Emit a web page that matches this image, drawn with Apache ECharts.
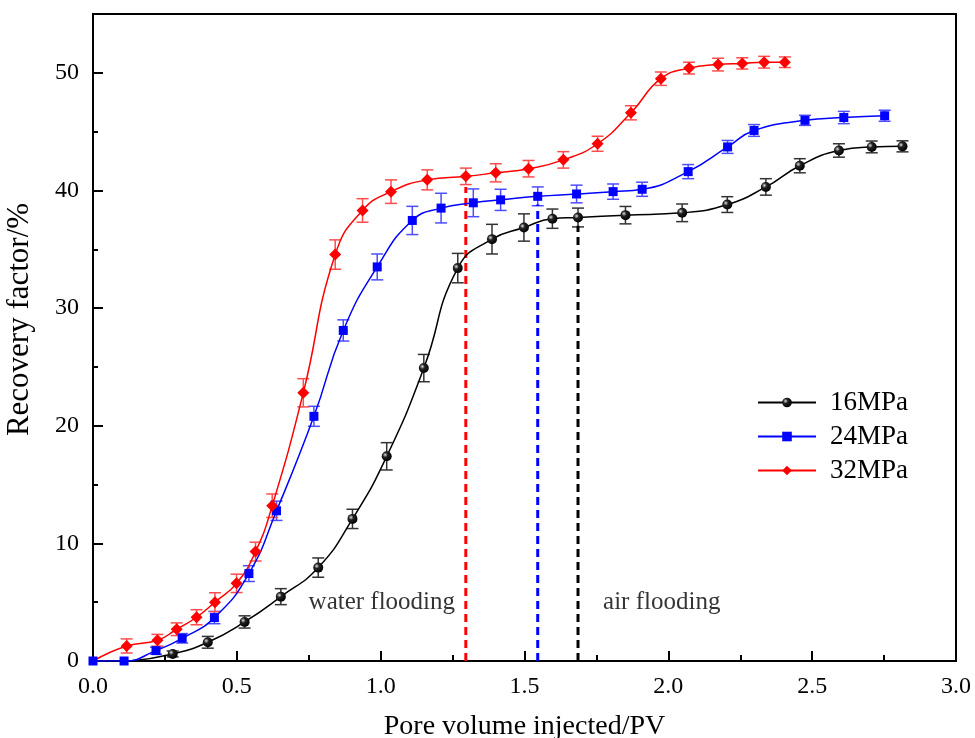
<!DOCTYPE html>
<html>
<head>
<meta charset="utf-8">
<script src="https://cdn.jsdelivr.net/npm/echarts@6/dist/echarts.min.js"></script>
<style>
  html, body { margin: 0; padding: 0; background: #fff; }
  #main { width: 975px; height: 738px; }
</style>
</head>
<body>
<div id="main"></div>
<script>
// 16 MPa
var x16 = [0.13, 0.277, 0.399, 0.527, 0.653, 0.783, 0.902, 1.021, 1.150, 1.268, 1.387, 1.498, 1.597, 1.686, 1.851, 2.048, 2.205, 2.339, 2.457, 2.593, 2.707, 2.814];
var y16 = [0, 0.6, 1.59, 3.32, 5.47, 7.94, 12.08, 17.4, 24.9, 33.4, 35.86, 36.85, 37.6, 37.7, 37.9, 38.1, 38.8, 40.3, 42.1, 43.4, 43.7, 43.75];
var e16 = [0, 0.25, 0.5, 0.52, 0.68, 0.82, 0.82, 1.16, 1.16, 1.25, 1.26, 1.16, 0.82, 0.8, 0.74, 0.75, 0.67, 0.7, 0.6, 0.57, 0.5, 0.47];
// 24 MPa
var x24 = [0, 0.108, 0.219, 0.310, 0.422, 0.542, 0.638, 0.768, 0.870, 0.988, 1.110, 1.210, 1.322, 1.417, 1.546, 1.681, 1.808, 1.909, 2.069, 2.206, 2.298, 2.475, 2.610, 2.752];
var y24 = [0, 0, 0.88, 1.93, 3.69, 7.43, 12.77, 20.8, 28.1, 33.5, 37.45, 38.5, 38.95, 39.2, 39.5, 39.7, 39.9, 40.1, 41.6, 43.7, 45.1, 45.96, 46.2, 46.35];
var e24 = [0, 0, 0.3, 0.4, 0.52, 0.67, 0.82, 0.85, 0.9, 1.1, 1.2, 1.26, 1.18, 0.9, 0.8, 0.75, 0.65, 0.6, 0.6, 0.55, 0.5, 0.43, 0.52, 0.47];
// 32 MPa
var x32 = [0, 0.117, 0.224, 0.291, 0.360, 0.424, 0.499, 0.565, 0.623, 0.731, 0.842, 0.937, 1.036, 1.162, 1.296, 1.400, 1.514, 1.635, 1.754, 1.870, 1.974, 2.072, 2.173, 2.257, 2.333, 2.405];
var y32 = [0, 1.28, 1.76, 2.7, 3.72, 5.0, 6.6, 9.3, 13.2, 22.8, 34.55, 38.3, 39.9, 40.9, 41.2, 41.5, 41.85, 42.6, 43.97, 46.6, 49.5, 50.4, 50.7, 50.8, 50.9, 50.9];
var e32 = [0, 0.6, 0.5, 0.54, 0.64, 0.8, 0.78, 0.8, 1.0, 1.2, 1.25, 1.0, 1.0, 0.85, 0.7, 0.77, 0.7, 0.7, 0.64, 0.6, 0.57, 0.5, 0.54, 0.48, 0.5, 0.45];

// switch from water to air flooding: [x, top of the dashed line]
var switch16 = [1.686, 37.0];
var switch24 = [1.546, 38.8];
var switch32 = [1.296, 40.3];

var notes = [[1.004, 4.94, 'water flooding'], [1.977, 4.98, 'air flooding']];

var FONT = '"Liberation Serif", "Times New Roman", serif';

function pts(xs, ys, hideFirst) {
  return xs.map(function (x, i) {
    if (i === 0 && hideFirst) return { value: [x, ys[i]], symbol: 'none' };
    return [x, ys[i]];
  });
}
function errs(xs, ys, es) {
  var out = [];
  for (var i = 0; i < xs.length; i++) if (es[i] > 0) out.push([xs[i], ys[i], es[i]]);
  return out;
}
function errRender(color) {
  return function (params, api) {
    var x = api.value(0), y = api.value(1), e = api.value(2);
    var t = api.coord([x, y + e]), b = api.coord([x, y - e]);
    var w = 6;
    var st = { stroke: color, lineWidth: 1.5 };
    return {
      type: 'group',
      children: [
        { type: 'line', shape: { x1: t[0], y1: t[1], x2: b[0], y2: b[1] }, style: st },
        { type: 'line', shape: { x1: t[0] - w, y1: t[1], x2: t[0] + w, y2: t[1] }, style: st },
        { type: 'line', shape: { x1: b[0] - w, y1: b[1], x2: b[0] + w, y2: b[1] }, style: st }
      ]
    };
  };
}
function errSeries(xs, ys, es, color) {
  return {
    type: 'custom', renderItem: errRender(color), data: errs(xs, ys, es),
    encode: { x: 0, y: 1 }, z: 1, silent: true
  };
}
function vline(s, color) {
  return {
    type: 'line', data: [[s[0], 0], [s[0], s[1]]], symbol: 'none', z: 1, silent: true,
    lineStyle: { color: color, width: 3, type: [8, 5] }
  };
}

var ball = {
  type: 'radial', x: 0.35, y: 0.35, r: 0.7,
  colorStops: [{ offset: 0, color: '#e0e0e0' }, { offset: 0.35, color: '#222' }, { offset: 1, color: '#000' }]
};

var chart = echarts.init(document.getElementById('main'));
chart.setOption({
  animation: false,
  backgroundColor: '#fff',
  grid: {
    left: 93, right: 19, top: 14, bottom: 77, outerBoundsMode: 'none',
    show: true, borderColor: '#000', borderWidth: 2
  },
  legend: {
    orient: 'vertical', left: 757, top: 389, padding: 0,
    itemWidth: 58, itemHeight: 12, itemGap: 7,
    data: ['16MPa', '24MPa', '32MPa'],
    textStyle: { fontFamily: FONT, fontSize: 27, lineHeight: 27, color: '#000', padding: [0, 0, 0, 9] }
  },
  xAxis: {
    type: 'value', min: 0, max: 3, interval: 0.5,
    name: 'Pore volume injected/PV', nameLocation: 'middle', nameGap: 52,
    nameTextStyle: { fontFamily: FONT, fontSize: 28, color: '#000' },
    axisLine: { lineStyle: { color: '#000', width: 2 } },
    axisTick: { inside: true, length: 10, lineStyle: { color: '#000', width: 2 } },
    minorTick: { show: true, splitNumber: 2, length: 6, lineStyle: { color: '#000', width: 2 } },
    splitLine: { show: false },
    axisLabel: { fontFamily: FONT, fontSize: 24, color: '#000', margin: 14, formatter: function (v) { return v.toFixed(1); } }
  },
  yAxis: [{
    type: 'value', min: 0, max: 55, interval: 10,
    name: 'Recovery factor/%', nameLocation: 'middle', nameGap: 58,
    nameTextStyle: { fontFamily: FONT, fontSize: 31, color: '#000', padding: [0, 0, 0, 36] },
    axisLine: { lineStyle: { color: '#000', width: 2 } },
    axisTick: { inside: true, length: 10, lineStyle: { color: '#000', width: 2 } },
    splitLine: { show: false },
    axisLabel: { fontFamily: FONT, fontSize: 24, color: '#000', margin: 14, showMaxLabel: false }
  }, {
    type: 'value', min: 0, max: 55, interval: 5, position: 'left',
    axisLine: { show: false },
    axisTick: { inside: true, length: 5, lineStyle: { color: '#000', width: 2 } },
    splitLine: { show: false }, axisLabel: { show: false }
  }],
  series: [
    errSeries(x16, y16, e16, '#333'),
    errSeries(x24, y24, e24, '#4d4dff'),
    errSeries(x32, y32, e32, '#ff4d4d'),
    vline(switch32, '#ff0000'),
    vline(switch24, '#0000ff'),
    vline(switch16, '#000000'),
    {
      name: '16MPa', type: 'line', data: pts(x16, y16, true), smooth: 0.5,
      symbol: 'circle', symbolSize: 10, z: 3,
      lineStyle: { color: '#000', width: 1.5 }, itemStyle: { color: ball, borderWidth: 0 }
    },
    {
      name: '24MPa', type: 'line', data: pts(x24, y24, false), smooth: 0.5,
      symbol: 'rect', symbolSize: 9, z: 3,
      lineStyle: { color: '#0000ff', width: 1.5 }, itemStyle: { color: '#0000ff' }
    },
    {
      name: '32MPa', type: 'line', data: pts(x32, y32, true), smooth: 0.5,
      symbol: 'diamond', symbolSize: 12, z: 3,
      lineStyle: { color: '#ff0000', width: 1.5 }, itemStyle: { color: '#ff0000' }
    },
    {
      type: 'scatter', data: notes, symbolSize: 0, silent: true, z: 4,
      label: {
        show: true, position: 'inside', fontFamily: FONT, fontSize: 25, color: '#000',
        textBorderWidth: 0, textBorderColor: 'transparent',
        formatter: function (p) { return p.value[2]; }
      }
    }
  ]
});
</script>
</body>
</html>
